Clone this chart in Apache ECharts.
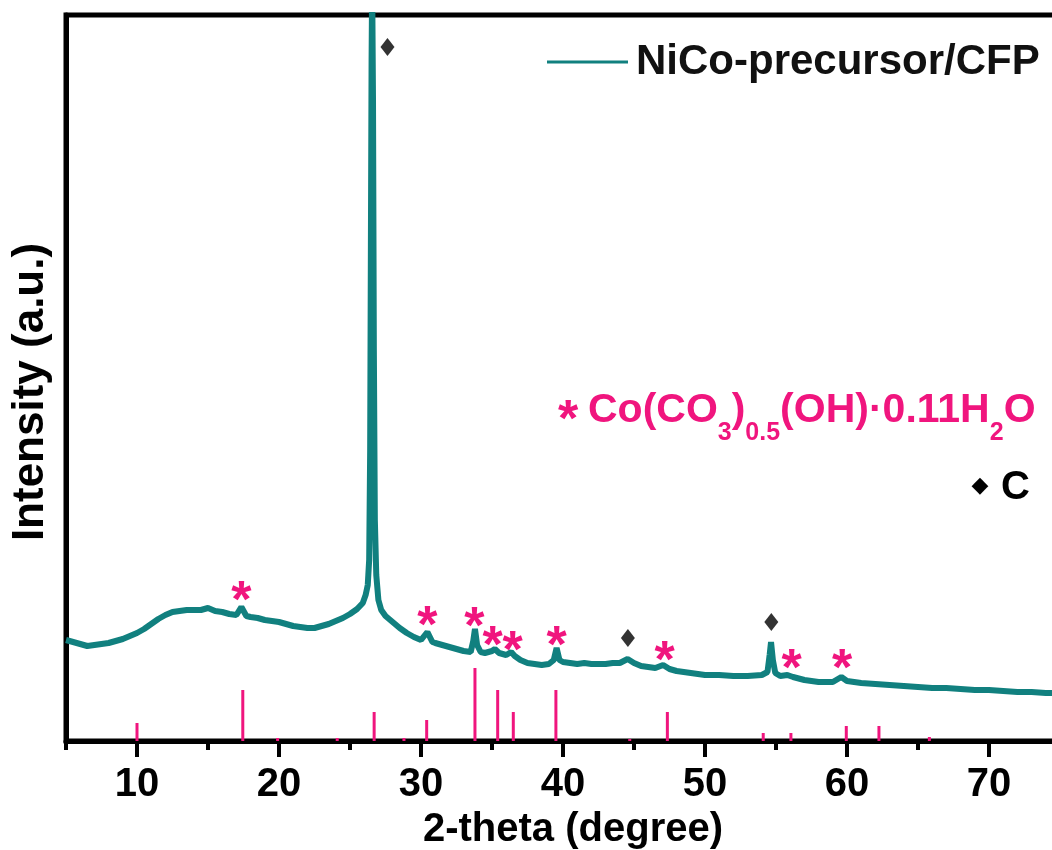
<!DOCTYPE html>
<html>
<head>
<meta charset="utf-8">
<script src="https://cdn.jsdelivr.net/npm/echarts@6/dist/echarts.min.js"></script>
<style>
html,body{margin:0;padding:0;background:#fff;}
#chart{width:1052px;height:850px;}
</style>
</head>
<body>
<div id="chart"></div>
<script>
// ---- data (intensity in arbitrary units) ----
const twoTheta = [5.0,5.5,6.0,6.5,7.0,7.5,8.0,8.5,9.0,9.5,10.0,10.5,11.0,11.5,12.0,12.5,13.0,13.5,14.0,14.5,15.0,15.5,16.0,16.5,17.0,17.35,17.7,18.0,18.5,19.0,19.5,20.0,20.5,21.0,21.5,22.0,22.5,23.0,23.5,24.0,24.5,25.0,25.5,25.9,26.1,26.25,26.35,26.42,26.47,26.52,26.56,26.62,26.68,26.75,26.85,27.0,27.2,27.5,28.0,28.5,29.0,29.5,30.0,30.45,30.8,31.0,31.5,32.0,32.5,33.0,33.5,33.68,33.8,33.95,34.2,34.5,35.0,35.2,35.5,36.0,36.35,36.6,37.0,37.5,38.0,38.5,39.0,39.35,39.55,39.75,40.0,40.5,41.0,41.5,42.0,42.5,43.0,43.5,44.0,44.55,45.0,45.5,46.0,46.5,47.05,47.5,48.0,48.5,49.0,49.5,50.0,51.0,52.0,53.0,54.0,54.4,54.55,54.65,54.78,54.95,55.3,55.8,56.2,57.0,58.0,59.0,59.6,60.0,61.0,62.0,63.0,64.0,65.0,66.0,67.0,68.0,69.0,70.0,71.0,72.0,73.0,74.0,75.0,76.0,77.0,78.0,79.0,80.0];
const intensity = [101,99,97,95,96,97,98,100,102,105,108,112,117,122,126,129,130,131,131,131,133,130,129,127,126,134,125,124,123,121,120,119,117,115,114,113,113,115,117,120,123,127,132,138,146,156,181,291,491,681,760,641,391,221,166,141,131,125,119,113,108,104,101,109,99,98,96,94,92,90,89,100,112,96,89,88,90,92,88,86,89,85,81,78,77,76,77,81,93,81,79,78,77,78,77,77,77,78,78,82,78,75,74,73,76,72,70,69,68,67,66,66,65,65,66,69,86,99,81,68,65,66,64,61,59,59,64,60,58,57,56,55,54,53,53,52,51,51,50,49,49,48,48,47,47,46,46,45];

// reference pattern of Co(CO3)0.5(OH)·0.11H2O (stick positions and relative heights)
const refPos = [10.0,17.45,19.9,24.1,26.7,28.8,30.4,33.8,35.4,36.5,39.5,44.7,47.35,54.1,56.05,59.95,62.25,65.8];
const refInt = [18,51,3,3,29,3,21,73,51,29,51,2,29,8,8,15,15,4];

// peak markers
const starPos = [17.35,30.45,33.75,35.05,36.45,39.55,47.15,56.1,59.65];
const starY   = [151,126,125,106,101,106,91,83,83];
const diamondPos = [27.64,44.57,54.67];
const diamondY   = [694,103,119];

// 2-theta axis range and tick steps
const xMin = 5, xMax = 80, xStep = 10;

const seriesName = 'NiCo-precursor/CFP';
const xTitle = '2-theta (degree)';
const yTitle = 'Intensity (a.u.)';

// ---- styles ----
const TEAL = '#11807f';
const PINK = '#f0157e';
const FONT = '"Liberation Sans", Arial, Helvetica, sans-serif';

const lineData = twoTheta.map((x, i) => [x, intensity[i]]);
const stickData = refPos.map((x, i) => [x, refInt[i]]);
const starData = starPos.map((x, i) => [x, starY[i]]);
const diamondData = diamondPos.map((x, i) => [x, diamondY[i]]);

// plot area: 14.2 px per degree, x = 5 at the left frame
const PX = 14.2, LEFT = 66;

const chart = echarts.init(document.getElementById('chart'), null, {renderer: 'canvas'});
const option = {
  animation: false,
  backgroundColor: '#fff',
  grid: [
    {left: LEFT, width: (xMax - xMin) * PX, top: 15, bottom: 109, outerBoundsMode: 'none', containLabel: false,
     show: true, borderColor: '#000', borderWidth: 5, backgroundColor: 'transparent'},
    // helper grid on the same scale starting at 0 so long ticks and labels fall on 10, 20, 30 ...
    {left: LEFT - xMin * PX, width: xMax * PX, top: 15, bottom: 109, outerBoundsMode: 'none', containLabel: false, show: false}
  ],
  legend: {
    data: [{name: seriesName, icon: 'rect'}],
    left: 547, top: 41, padding: 0,
    itemWidth: 81, itemHeight: 3, itemGap: 10,
    itemStyle: {color: TEAL},
    textStyle: {fontSize: 42, fontWeight: 'bold', color: '#111', fontFamily: FONT, padding: [0, 0, 0, 3]}
  },
  xAxis: [{
    // short ticks at 5, 15, 25 ...
    gridIndex: 0, type: 'value', min: xMin, max: xMax, interval: xStep, position: 'bottom',
    axisLine: {show: true, lineStyle: {color: '#000', width: 5}},
    axisTick: {show: true, inside: false, length: 9, lineStyle: {color: '#000', width: 4}},
    axisLabel: {show: false},
    splitLine: {show: false}
  }, {
    // long ticks at 10, 20, 30 ...
    gridIndex: 1, type: 'value', min: 0, max: xMax, interval: xStep, position: 'bottom',
    axisLine: {show: true, lineStyle: {color: 'rgba(0,0,0,0)', width: 1}},
    axisTick: {show: true, inside: false, length: 16, lineStyle: {color: '#000', width: 4}},
    axisLabel: {show: false},
    splitLine: {show: false}
  }, {
    // labels at 10, 20, 30 ...
    gridIndex: 1, type: 'value', min: 0, max: xMax, interval: xStep, position: 'bottom',
    axisLine: {show: false},
    axisTick: {show: false},
    axisLabel: {show: true, margin: 24, fontSize: 40, fontWeight: 'bold', color: '#000', fontFamily: FONT,
                formatter: v => (v < 10 || v > 70) ? '' : String(v)},
    splitLine: {show: false}
  }],
  yAxis: [{
    gridIndex: 0, type: 'value', min: 0, max: 726,
    axisLine: {show: true, lineStyle: {color: '#000', width: 5}},
    axisTick: {show: false}, axisLabel: {show: false}, splitLine: {show: false}
  }, {
    gridIndex: 1, type: 'value', min: 0, max: 726, show: false
  }],
  series: [{
    name: seriesName, type: 'line', data: lineData, symbol: 'none',
    lineStyle: {color: TEAL, width: 6}, itemStyle: {color: TEAL}, z: 3
  }, {
    name: 'ref', type: 'custom', data: stickData, z: 2,
    renderItem: function (params, api) {
      const p0 = api.coord([api.value(0), 0]);
      const p1 = api.coord([api.value(0), api.value(1)]);
      return {type: 'line', shape: {x1: p0[0], y1: p0[1], x2: p1[0], y2: p1[1]}, style: {stroke: PINK, lineWidth: 3}};
    }
  }, {
    name: 'stars', type: 'custom', data: starData, z: 4,
    renderItem: function (params, api) {
      const p = api.coord([api.value(0), api.value(1)]);
      return {type: 'text', x: p[0], y: p[1] + 13, style: {text: '*', fill: PINK, fontSize: 52, fontWeight: 'bold', fontFamily: FONT, align: 'center', verticalAlign: 'middle'}};
    }
  }, {
    name: 'diamonds', type: 'scatter', data: diamondData, symbol: 'diamond', symbolSize: [14, 18],
    itemStyle: {color: '#000'}, z: 4
  }],
  graphic: [
    {type: 'text', x: 31, y: 392, rotation: Math.PI / 2, style: {text: yTitle, fontSize: 44, fontWeight: 'bold', fill: '#000', fontFamily: FONT, align: 'center', verticalAlign: 'middle'}},
    {type: 'text', x: 573, y: 830, style: {text: xTitle, fontSize: 40, fontWeight: 'bold', fill: '#000', fontFamily: FONT, align: 'center', verticalAlign: 'middle'}},
    {type: 'text', x: 568, y: 422, style: {text: '*', fontSize: 52, fontWeight: 'bold', fill: PINK, fontFamily: FONT, align: 'center', verticalAlign: 'middle'}},
    {type: 'text', x: 588, y: 390, style: {
      text: '{m|Co(CO}{s|3}{m|)}{s|0.5}{m|(OH)·0.11H}{s|2}{m|O}',
      fill: PINK, fontFamily: FONT, fontWeight: 'bold', align: 'left', verticalAlign: 'top',
      rich: {
        m: {fontSize: 41, lineHeight: 41, verticalAlign: 'top', fontWeight: 'bold', fill: PINK, fontFamily: FONT},
        s: {fontSize: 25, lineHeight: 25, verticalAlign: 'top', padding: [31, 0, 0, 0], fontWeight: 'bold', fill: PINK, fontFamily: FONT}
      }
    }},
    {type: 'text', x: 980, y: 486, style: {text: '◆', fontSize: 22, fill: '#000', fontFamily: '"DejaVu Sans", sans-serif', align: 'center', verticalAlign: 'middle'}},
    {type: 'text', x: 1001, y: 488, style: {text: 'C', fontSize: 40, fontWeight: 'bold', fill: '#000', fontFamily: FONT, align: 'left', verticalAlign: 'middle'}}
  ]
};
chart.setOption(option);
</script>
</body>
</html>
